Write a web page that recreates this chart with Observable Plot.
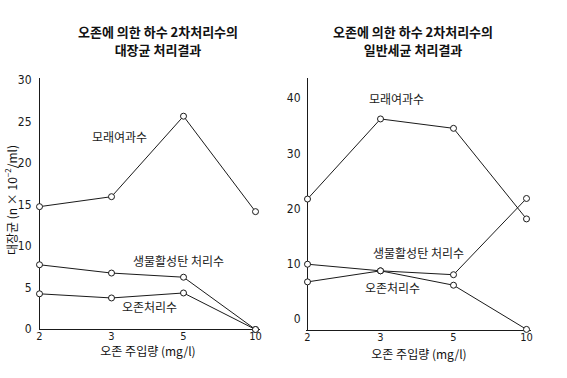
<!DOCTYPE html>
<html><head><meta charset="utf-8">
<script src="https://cdn.jsdelivr.net/npm/d3@7"></script>
<script src="https://cdn.jsdelivr.net/npm/@observablehq/plot@0.6"></script>
<style>
body{margin:0;background:#fff;}
#wrap{position:relative;width:567px;height:378px;overflow:hidden;font-family:"Noto Sans CJK KR",sans-serif;color:#111;background:#fff;}
.title{position:absolute;font-weight:bold;font-size:13px;line-height:18px;text-align:center;width:260px;}
.xlab{position:absolute;font-size:12px;line-height:11px;text-align:center;width:200px;}
.ylab{position:absolute;font-size:12px;line-height:16px;text-align:center;width:130px;height:16px;transform:rotate(-90deg);white-space:nowrap;}
.ylab sup{font-size:8px;vertical-align:6px;line-height:0;}
.panel{position:absolute;top:0;}
</style></head><body>
<div id="wrap">
  <div id="p1" class="panel" style="left:0"></div>
  <div id="p2" class="panel" style="left:283px"></div>
  <div class="title" style="left:28px;top:23px">오존에 의한 하수 2차처리수의<br>대장균 처리결과</div>
  <div class="title" style="left:283px;top:23px">오존에 의한 하수 2차처리수의<br>일반세균 처리결과</div>
  <div class="xlab" style="left:48px;top:345px">오존 주입량 (mg/l)</div>
  <div class="xlab" style="left:319px;top:348px">오존 주입량 (mg/l)</div>
  <div class="ylab" style="left:-53px;top:192px">대장균 (n × 10<sup>−2</sup>/ml)</div>
</div>
<script>
const doses = ["2", "3", "5", "10"];
const seriesNames = ["모래여과수", "생물활성탄 처리수", "오존처리수"];
// 대장균 (n x 10^-2 / ml)
const ecoliSand  = [14.8, 16.0, 25.7, 14.2];
const ecoliBAC   = [7.8, 6.8, 6.3, 0];
const ecoliOzone = [4.3, 3.8, 4.4, 0];
const ecoliTicks = [0, 5, 10, 15, 20, 25, 30];
// 일반세균
const hpcSand  = [21.8, 36.3, 34.6, 18.2];
const hpcBAC   = [10.0, 8.8, 8.1, 21.9];
const hpcOzone = [6.8, 8.8, 6.2, -1.8];
const hpcTicks = [0, 10, 20, 30, 40];

function rows(lists) {
  const out = [];
  lists.forEach((vals, i) => vals.forEach((v, j) => out.push({series: seriesNames[i], dose: doses[j], value: v})));
  return out;
}
const ink = "#1a1a1a";
const tickFont = "'Liberation Sans Narrow','DejaVu Sans Condensed',sans-serif";
const labelFont = "'Noto Sans CJK KR',sans-serif";

function label(data, name, dose, dx, dy) {
  return Plot.text(data, {
    filter: d => d.series === name && d.dose === dose,
    x: "dose", y: "value", text: "series", dx, dy,
    fontFamily: labelFont, fontSize: 12, fill: ink
  });
}

const d1 = rows([ecoliSand, ecoliBAC, ecoliOzone]);
const p1 = Plot.plot({
  width: 283, height: 378,
  marginTop: 78, marginBottom: 49, marginLeft: 39, marginRight: 23,
  x: {type: "point", domain: doses, padding: 0, insetRight: 5},
  y: {domain: [0, 30], insetTop: 2},
  style: {background: "white", color: ink, fontFamily: tickFont, fontSize: "12px"},
  marks: [
    Plot.ruleY([0], {stroke: ink}),
    Plot.ruleX(["2"], {stroke: ink}),
    Plot.axisY({ticks: ecoliTicks, tickSize: 0, tickPadding: 8, label: null, fontSize: 12}),
    Plot.axisX({tickSize: 0, tickPadding: 3, label: null, fontSize: 11}),
    Plot.line(d1, {x: "dose", y: "value", z: "series", stroke: ink, strokeWidth: 1}),
    Plot.dot(d1, {x: "dose", y: "value", r: 3, fill: "white", stroke: ink, strokeWidth: 1}),
    label(d1, "모래여과수", "3", 8, -59),
    label(d1, "생물활성탄 처리수", "5", -5, -15),
    label(d1, "오존처리수", "3", 38, 10)
  ]
});
document.getElementById("p1").appendChild(p1);

const d2 = rows([hpcSand, hpcBAC, hpcOzone]);
const p2 = Plot.plot({
  width: 284, height: 378,
  marginTop: 78, marginBottom: 48, marginLeft: 23, marginRight: 36,
  x: {type: "point", domain: doses, padding: 0, insetRight: 5},
  y: {domain: [-2, 40], insetTop: 20},
  style: {background: "white", color: ink, fontFamily: tickFont, fontSize: "12px"},
  marks: [
    Plot.ruleY([-2], {stroke: ink}),
    Plot.ruleX(["2"], {stroke: ink}),
    Plot.axisY({ticks: hpcTicks, tickSize: 0, tickPadding: 6, label: null, fontSize: 12}),
    Plot.axisX({tickSize: 0, tickPadding: 3, label: null, fontSize: 11}),
    Plot.line(d2, {x: "dose", y: "value", z: "series", stroke: ink, strokeWidth: 1}),
    Plot.dot(d2, {x: "dose", y: "value", r: 3, fill: "white", stroke: ink, strokeWidth: 1}),
    label(d2, "모래여과수", "3", 16, -19),
    label(d2, "생물활성탄 처리수", "3", 38, -17),
    label(d2, "오존처리수", "3", 12, 18)
  ]
});
document.getElementById("p2").appendChild(p2);
</script>
</body></html>
